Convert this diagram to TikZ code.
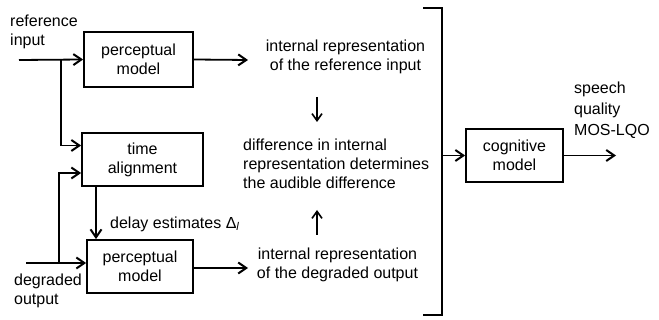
\documentclass[tikz,border=0pt]{standalone}
\usepackage{fontspec}
\setmainfont{Liberation Sans}
\usetikzlibrary{arrows.meta}
\begin{document}
\begin{tikzpicture}[x=1pt,y=-1pt,
  every node/.style={font=\fontsize{16}{19}\selectfont},
  blk/.style={draw,line width=1.8pt,inner sep=0pt,align=center},
  lbl/.style={inner sep=0pt},
  conn/.style={line width=1.8pt,-{Straight Barb[length=8pt,width=11pt,line width=2pt]}},
  plain/.style={line width=1.8pt}]
\useasboundingbox (0,0) rectangle (659,320);
% blocks
\node[blk,minimum width=109pt,minimum height=55pt] (pm1) at (138.5,59.5) {perceptual\\model};
\node[blk,minimum width=121pt,minimum height=53pt] (ta) at (142.5,159.5) {time\\alignment};
\node[blk,minimum width=106pt,minimum height=53pt] (pm2) at (140,266.5) {perceptual\\model};
\node[blk,minimum width=97pt,minimum height=53pt] (cog) at (514.5,155.5) {cognitive\\model};
% labels
\node[lbl,align=left,anchor=west] (refin) at (10,31.5) {reference\\input};
\node[lbl,align=left,anchor=west] (degout) at (14,291) {degraded\\output};
\node[lbl,anchor=west] (delay) at (110,224) {delay estimates Δ\textsubscript{\textit{l}}};
\node[lbl,align=center] (irref) at (345.5,57) {internal representation\\of the reference input};
\node[lbl,align=left,anchor=west] (diff) at (243,164) {difference in internal\\representation determines\\the audible difference};
\node[lbl,align=center] (irdeg) at (337.5,265) {internal representation\\of the degraded output};
\node[lbl,align=left,anchor=west,font=\fontsize{16}{21}\selectfont] (sq) at (574,110) {speech\\quality\\MOS-LQO};
% coordinates
\coordinate (rin) at (19,60);
\coordinate (rbr) at (61,60);
\coordinate (din) at (26,263);
\coordinate (dbr) at (59,263);
\coordinate (o1) at (248,60);
\coordinate (o2) at (248,268);
\coordinate (a1s) at (317,97);
\coordinate (a1e) at (317,122);
\coordinate (a2s) at (317,235);
\coordinate (a2e) at (317,210);
\coordinate (bt) at (423,8);
\coordinate (btr) at (442,8);
\coordinate (bbr) at (442,315);
\coordinate (bb) at (423,315);
\coordinate (bm) at (442,155.5);
\coordinate (qout) at (616,155.5);
% connectors
\draw[conn] (rin) -- (pm1.west);
\draw[conn] (rbr) |- ([yshift=14pt]ta.west);
\draw[conn] (din) -- (din -| pm2.west);
\draw[conn] (dbr) |- ([yshift=-13.5pt]ta.west);
\draw[conn] (ta.south -| 96,0) -- (pm2.north -| 96,0);
\draw[conn] (pm1.east) -- (o1);
\draw[conn] (pm2.east |- o2) -- (o2);
\draw[line width=1.6pt,-{Straight Barb[length=7pt,width=10pt,line width=1.6pt]}] (a1s) -- (a1e);
\draw[line width=1.6pt,-{Straight Barb[length=7pt,width=10pt,line width=1.6pt]}] (a2s) -- (a2e);
\draw[plain] (bt) -- (btr) -- (bbr) -- (bb);
\draw[conn] (bm) -- (cog.west);
\draw[conn] (cog.east) -- (qout);
\end{tikzpicture}
\end{document}
